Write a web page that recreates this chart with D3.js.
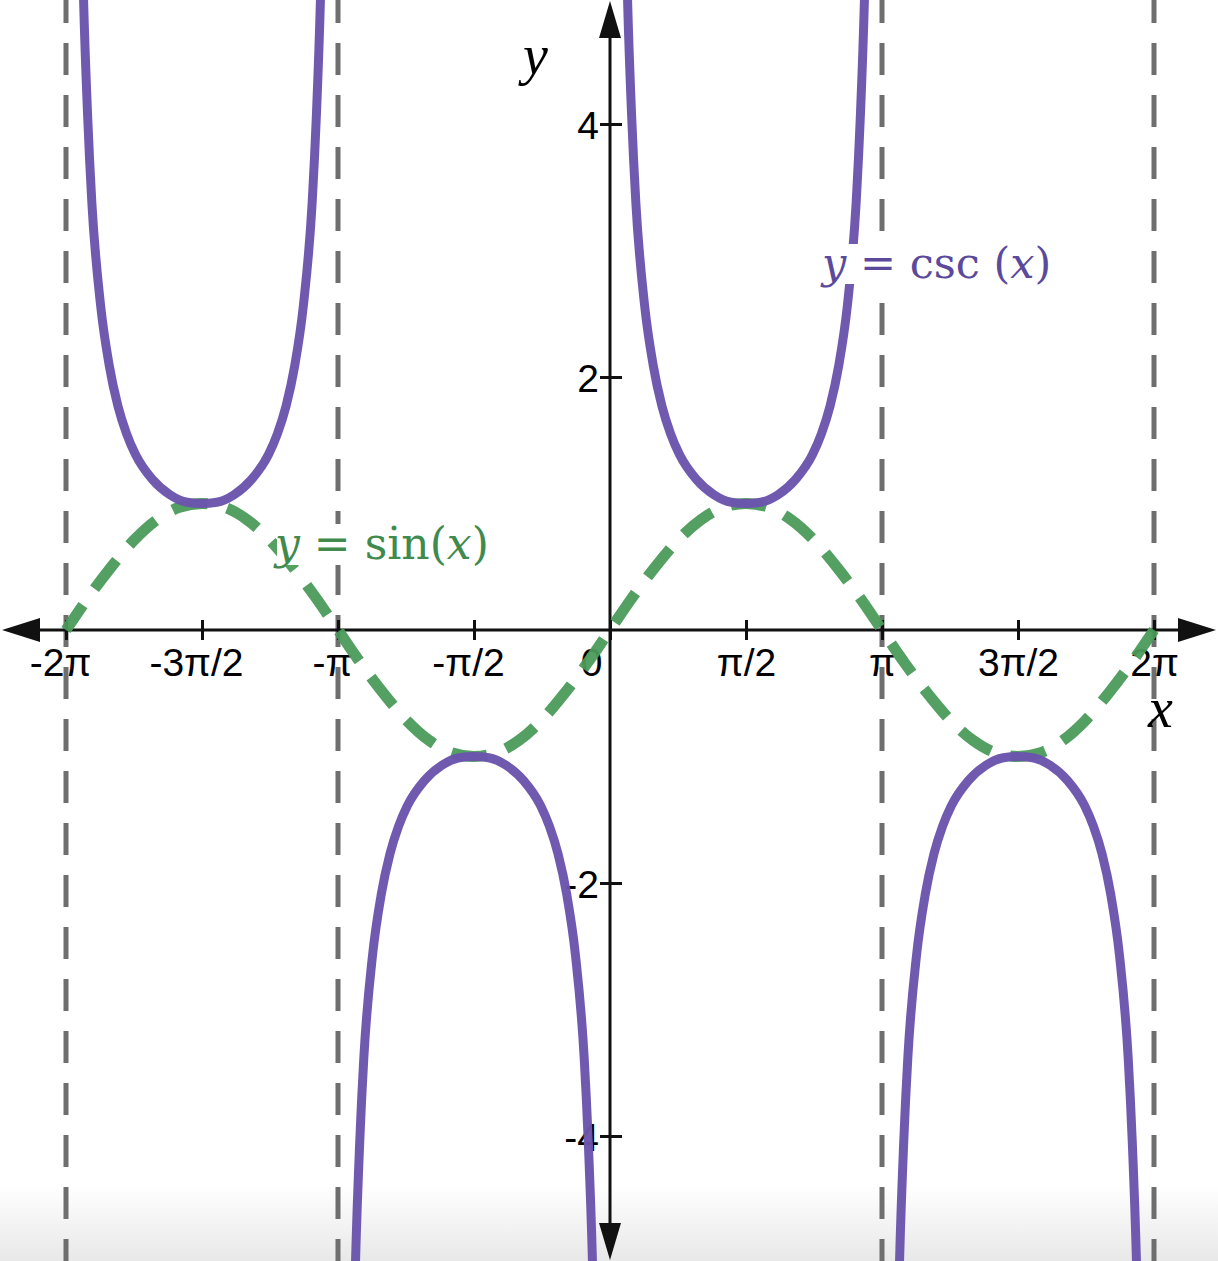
<!DOCTYPE html>
<html>
<head>
<meta charset="utf-8">
<script src="https://cdn.jsdelivr.net/npm/d3@7"></script>
<style>
  html, body { margin: 0; padding: 0; background: #fff; }
  svg { display: block; }
  .tick text { font-family: "Liberation Sans", Arial, sans-serif; }
</style>
</head>
<body>
<svg id="chart" width="1218" height="1261"></svg>
<script>
(function(d3) {
    'use strict';

    // x values are in units of pi
    var xTicks = [-2, -1.5, -1, -0.5, 0, 0.5, 1, 1.5, 2];
    var xTickLabels = ['-2π', '-3π/2', '-π', '-π/2', '0', 'π/2', 'π', '3π/2', '2π'];
    var yTicks = [-4, -2, 2, 4];
    var yTickLabels = ['-4', '-2', '2', '4'];
    var asymptotes = [-2, -1, 1, 2];

    // y = sin(x), read every pi/12
    var sinX = [-2, -1.917, -1.833, -1.75, -1.667, -1.583, -1.5, -1.417, -1.333, -1.25, -1.167, -1.083,
        -1, -0.917, -0.833, -0.75, -0.667, -0.583, -0.5, -0.417, -0.333, -0.25, -0.167, -0.083,
        0, 0.083, 0.167, 0.25, 0.333, 0.417, 0.5, 0.583, 0.667, 0.75, 0.833, 0.917,
        1, 1.083, 1.167, 1.25, 1.333, 1.417, 1.5, 1.583, 1.667, 1.75, 1.833, 1.917, 2];
    var sinY = [0, 0.26, 0.5, 0.71, 0.87, 0.97, 1, 0.97, 0.87, 0.71, 0.5, 0.26,
        0, -0.26, -0.5, -0.71, -0.87, -0.97, -1, -0.97, -0.87, -0.71, -0.5, -0.26,
        0, 0.26, 0.5, 0.71, 0.87, 0.97, 1, 0.97, 0.87, 0.71, 0.5, 0.26,
        0, -0.26, -0.5, -0.71, -0.87, -0.97, -1, -0.97, -0.87, -0.71, -0.5, -0.26, 0];

    // y = csc(x): one half-branch, offset from the asymptote (pi units) and value
    var cscOffset = [0.04, 0.048, 0.064, 0.08, 0.095, 0.127, 0.159, 0.191, 0.223, 0.255, 0.318, 0.382, 0.446, 0.5];
    var cscValue = [7.98, 6.7, 5.03, 4.04, 3.38, 2.57, 2.09, 1.77, 1.55, 1.39, 1.19, 1.07, 1.01, 1.0];
    var cscBranchStart = [-2, -1, 0, 1];
    var cscBranchSign = [1, -1, 1, -1];

    var width = 1218, height = 1261;
    var svg = d3.select('#chart');

    var x = d3.scaleLinear().domain([-2, 2]).range([66, 1154]);
    var y = d3.scaleLinear().domain([-4, 4]).range([1136, 124]);
    var x0 = x(0), y0 = y(0);

    // soft grey band at the bottom of the screenshot
    var defs = svg.append('defs');
    var grad = defs.append('linearGradient')
        .attr('id', 'fade').attr('x1', 0).attr('y1', 0).attr('x2', 0).attr('y2', 1);
    grad.append('stop').attr('offset', '0%').attr('stop-color', '#ffffff');
    grad.append('stop').attr('offset', '100%').attr('stop-color', '#e8e8e8');
    svg.append('rect')
        .attr('x', 0).attr('y', 1185).attr('width', width).attr('height', height - 1185)
        .attr('fill', 'url(#fade)');

    defs.append('clipPath').attr('id', 'clip')
        .append('rect').attr('x', 0).attr('y', 0).attr('width', width).attr('height', height);

    // dashed asymptotes
    svg.append('g').selectAll('line')
        .data(asymptotes)
        .enter().append('line')
        .attr('x1', function(d) { return x(d); })
        .attr('x2', function(d) { return x(d); })
        .attr('y1', 0).attr('y2', height)
        .attr('stroke', '#6e6e6e')
        .attr('stroke-width', 5)
        .attr('stroke-dasharray', '32,20')
        .attr('stroke-dashoffset', 9);

    // axes
    var xAxis = d3.axisBottom(x)
        .tickValues(xTicks)
        .tickSize(10)
        .tickFormat(function(d, i) { return xTickLabels[i]; });
    var gx = svg.append('g')
        .attr('transform', 'translate(0,' + y0 + ')')
        .call(xAxis);
    gx.select('.domain').remove();
    gx.selectAll('.tick line')
        .attr('y1', -10).attr('y2', 10)
        .attr('stroke', '#111').attr('stroke-width', 3);
    gx.selectAll('.tick text')
        .attr('y', 0)
        .attr('dy', 46)
        .attr('dx', function(d) { return d === 0 ? -19 : (d < 0 ? -6 : 0); })
        .attr('fill', '#000')
        .style('font-size', '39px');

    var yAxis = d3.axisLeft(y)
        .tickValues(yTicks)
        .tickSize(10)
        .tickFormat(function(d, i) { return yTickLabels[i]; });
    var gy = svg.append('g')
        .attr('transform', 'translate(' + x0 + ',0)')
        .call(yAxis);
    gy.select('.domain').remove();
    gy.selectAll('.tick line')
        .attr('x1', -10).attr('x2', 12)
        .attr('stroke', '#111').attr('stroke-width', 3);
    gy.selectAll('.tick text')
        .attr('x', -11)
        .attr('dy', '0.36em')
        .attr('fill', '#000')
        .style('font-size', '39px');

    var axisG = svg.append('g').attr('stroke', '#111').attr('fill', '#111');
    axisG.append('line')
        .attr('x1', 30).attr('x2', width - 30).attr('y1', y0).attr('y2', y0)
        .attr('stroke-width', 3);
    axisG.append('line')
        .attr('x1', x0).attr('x2', x0).attr('y1', 30).attr('y2', height - 30)
        .attr('stroke-width', 3);
    // arrow heads
    axisG.append('path').attr('stroke', 'none')
        .attr('d', 'M2,' + y0 + 'L40,' + (y0 - 12) + 'L40,' + (y0 + 12) + 'Z');
    axisG.append('path').attr('stroke', 'none')
        .attr('d', 'M' + (width - 2) + ',' + y0 + 'L' + (width - 40) + ',' + (y0 - 12) + 'L' + (width - 40) + ',' + (y0 + 12) + 'Z');
    axisG.append('path').attr('stroke', 'none')
        .attr('d', 'M' + x0 + ',1L' + (x0 - 11) + ',38L' + (x0 + 11) + ',38Z');
    axisG.append('path').attr('stroke', 'none')
        .attr('d', 'M' + x0 + ',' + (height - 1) + 'L' + (x0 - 11) + ',' + (height - 38) + 'L' + (x0 + 11) + ',' + (height - 38) + 'Z');

    var line = d3.line()
        .x(function(d) { return x(d[0]); })
        .y(function(d) { return y(d[1]); })
        .curve(d3.curveMonotoneX);

    // sine, dashed green
    var sinData = sinX.map(function(v, i) { return [v, sinY[i]]; });
    svg.append('path')
        .datum(sinData)
        .attr('d', line)
        .attr('fill', 'none')
        .attr('stroke', '#4b9a5a')
        .attr('stroke-opacity', 0.95)
        .attr('stroke-width', 11)
        .attr('stroke-dasharray', '36,20')
        .attr('stroke-dashoffset', 6);

    // cosecant branches, purple
    var branches = cscBranchStart.map(function(start, b) {
        var sign = cscBranchSign[b];
        var left = cscOffset.map(function(o, i) { return [start + o, sign * cscValue[i]]; });
        var right = cscOffset.slice(0, -1).map(function(o, i) { return [start + 1 - o, sign * cscValue[i]]; }).reverse();
        return left.concat(right);
    });
    svg.append('g')
        .attr('clip-path', 'url(#clip)')
        .selectAll('path')
        .data(branches)
        .enter().append('path')
        .attr('d', line)
        .attr('fill', 'none')
        .attr('stroke', '#6b55ad')
        .attr('stroke-opacity', 0.97)
        .attr('stroke-width', 9);

    // axis names
    svg.append('text')
        .attr('x', 523).attr('y', 74)
        .style('font-family', '"Liberation Serif", "Times New Roman", serif')
        .style('font-style', 'italic')
        .style('font-size', '56px')
        .text('y');
    svg.append('text')
        .attr('x', 1148).attr('y', 727)
        .style('font-family', '"Liberation Serif", "Times New Roman", serif')
        .style('font-style', 'italic')
        .style('font-size', '56px')
        .text('x');

    // curve labels, on a white backing like the source
    function mathLabel(px, py, color, size, parts) {
        var g = svg.append('g');
        var bg = g.append('rect').attr('fill', '#fff');
        var t = g.append('text')
            .attr('x', px).attr('y', py)
            .attr('fill', color)
            .style('font-family', '"DejaVu Serif", serif')
            .style('font-size', size + 'px');
        parts.forEach(function(p) {
            t.append('tspan')
                .style('font-style', p[1] ? 'italic' : 'normal')
                .text(p[0]);
        });
        var b = t.node().getBBox();
        bg.attr('x', b.x + 4).attr('y', b.y + 6)
            .attr('width', b.width - 8).attr('height', b.height - 10);
    }
    mathLabel(822, 278, '#5b4a9b', 43, [['y', true], [' = csc (', false], ['x', true], [')', false]]);
    mathLabel(275, 559, '#3f8a4c', 44, [['y', true], [' = sin(', false], ['x', true], [')', false]]);

}(d3));
</script>
</body>
</html>
